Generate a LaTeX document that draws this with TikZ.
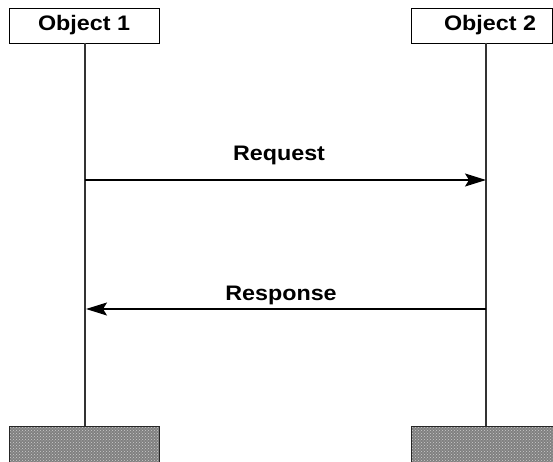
\documentclass[tikz,border=0pt]{standalone}
\usepackage{fontspec}
\newfontfamily\lblfont[FakeStretch=1.11]{Liberation Sans}
\usetikzlibrary{arrows.meta,patterns}
\begin{document}
\begin{tikzpicture}[x=1pt,y=-1pt,
  lbl/.style={font=\lblfont\bfseries\fontsize{21}{25}\selectfont, inner sep=0pt, anchor=base},
  objbox/.style={draw=black, line width=1.4pt, fill=white},
  endbox/.style={draw=black!85, line width=1.4pt, preaction={fill=black!50},
    pattern=crosshatch dots, pattern color=white!80!black},
  lifeline/.style={draw=black!80, line width=1.6pt},
  msg/.style={draw=black, line width=1.3pt, -{Stealth[length=21pt,width=13pt,inset=4pt]}}]
  \useasboundingbox (0,0) rectangle (553,462);
  % object heads
  \node[objbox, minimum width=150pt, minimum height=35pt, anchor=north west] (o1) at (9,8) {};
  \node[objbox, minimum width=141pt, minimum height=35pt, anchor=north west] (o2) at (411,8) {};
  \node[lbl] (t1) at (84,31) {Object 1};
  \node[lbl] (t2) at (490,31) {Object 2};
  % lifeline ends
  \node[endbox, minimum width=150pt, minimum height=40pt, anchor=north west] (e1) at (9,426) {};
  \node[endbox, minimum width=145pt, minimum height=40pt, anchor=north west] (e2) at (411,426) {};
  % lifelines
  \coordinate (l1t) at (85,43);
  \coordinate (l1b) at (85,426);
  \coordinate (l2t) at (486,43);
  \coordinate (l2b) at (486,426);
  \draw[lifeline] (l1t) -- (l1b);
  \draw[lifeline] (l2t) -- (l2b);
  % messages
  \coordinate (rqa) at (85,180);
  \coordinate (rqb) at (486,180);
  \coordinate (rsa) at (486,309);
  \coordinate (rsb) at (86,309);
  \draw[msg] (rqa) -- (rqb);
  \draw[msg] (rsa) -- (rsb);
  \node[lbl] (rq) at (279,161) {Request};
  \node[lbl] (rs) at (281,300) {Response};
\end{tikzpicture}
\end{document}
